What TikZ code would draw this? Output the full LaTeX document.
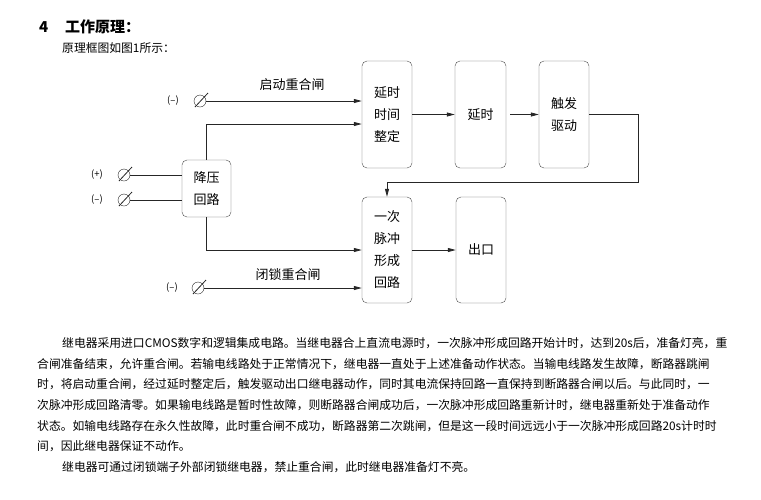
\documentclass[tikz,border=0pt]{standalone}
\usepackage{fontspec}
\setmainfont{Noto Sans CJK SC}
\usetikzlibrary{arrows.meta,calc}
\XeTeXlinebreaklocale "zh"
\XeTeXlinebreakskip=0pt plus 3pt

\tikzset{
	blk/.style={draw=black!70, rounded corners=5pt, minimum width=50pt, minimum height=107pt,
		align=center, inner sep=0pt, font=\fontsize{13}{22}\selectfont},
	term/.style={draw=black!85, circle, minimum size=12pt, inner sep=0pt},
	lbl/.style={inner sep=0pt, font=\fontsize{13}{15}\selectfont},
	pol/.style={inner sep=0pt, font=\fontsize{9.5}{11}\selectfont},
	wire/.style={draw=black!85, line width=0.8pt},
	arr/.style={wire, -{Triangle[length=8pt,width=4pt]}},
	txt/.style={anchor=west, inner sep=0pt, font=\fontsize{11.8}{14}\selectfont},
	head/.style={txt, font=\fontsize{15}{17}\selectfont\bfseries},
}
\newcommand\slashterm[1]{\draw[wire] ($(#1)+(-5,6)$) -- ($(#1)+(8,-8)$);}

\begin{document}
\begin{tikzpicture}[x=1pt, y=-1pt]
			%%%%% START %%%%%
			\useasboundingbox (0,0) rectangle (761,499);
			
			\node[head] (num) at (39,27) {4};
			\node[head] (ttl) at (65,27) {工作原理：};
			\node[txt] (sub) at (62,48) {原理框图如图1所示：};
			
			% blocks
			\node[blk] (zd) at (387,114.5) {延时\\时间\\整定};
			\node[blk, minimum width=51pt] (ys) at (480.5,114.5) {延时};
			\node[blk] (cf) at (564,114.5) {触发\\驱动};
			\node[blk, minimum height=106pt] (mc) at (387,250) {一次\\脉冲\\形成\\回路};
			\node[blk, minimum height=106pt] (ck) at (481,250) {出口};
			\node[blk, minimum width=49pt, minimum height=57pt] (jy) at (206.5,188.5) {降压\\回路};
			
			% terminals
			\node[term] (t1) at (200,101) {}; \slashterm{t1}
			\node[pol] (p1) at (173,101) {(–)};
			\node[term] (t2) at (124,175) {}; \slashterm{t2}
			\node[pol] (p2) at (97,175) {(+)};
			\node[term] (t3) at (124,200) {}; \slashterm{t3}
			\node[pol] (p3) at (97,200) {(–)};
			\node[term] (t4) at (198,288) {}; \slashterm{t4}
			\node[pol] (p4) at (172,288) {(–)};
			
			\node[lbl] (qd) at (292,85) {启动重合闸};
			\node[lbl] (bs) at (288,275) {闭锁重合闸};
			
			% connectors
			\draw[arr] (t1) -- (t1 -| zd.west);
			\draw[arr] (jy.north) |- ([yshift=-9.5pt]zd.west);
			\draw[wire] (t2) -- (t2 -| jy.west);
			\draw[wire] (t3) -- (t3 -| jy.west);
			\draw[arr] (jy.south) |- (mc.west);
			\draw[arr] (t4) -- (t4 -| mc.west);
			\draw[arr] (zd.east) -- (ys.west);
			\draw[arr] ([xshift=4pt]ys.east) -- (cf.west);
			\draw[arr] (cf.east) -- ++(49,0) -- ++(0,68) -| (mc.north);
			\draw[arr] (mc.east) -- (ck.west);
			
			% text
			\node[txt] (l1) at (62,343) {\hbox to 658pt{继电器采用进口CMOS数字和逻辑集成电路。当继电器合上直流电源时，一次脉冲形成回路开始计时，达到20s后，准备灯亮，重}};
			\node[txt] (l2) at (37,363.7) {\hbox to 683pt{合闸准备结束，允许重合闸。若输电线路处于正常情况下，继电器一直处于上述准备动作状态。当输电线路发生故障，断路器跳闸}};
			\node[txt] (l3) at (37,384.3) {\hbox to 683pt{时，将启动重合闸，经过延时整定后，触发驱动出口继电器动作，同时其电流保持回路一直保持到断路器合闸以后。与此同时，一}};
			\node[txt] (l4) at (37,405) {\hbox to 683pt{次脉冲形成回路清零。如果输电线路是暂时性故障，则断路器合闸成功后，一次脉冲形成回路重新计时，继电器重新处于准备动作}};
			\node[txt] (l5) at (37,425.7) {\hbox to 683pt{状态。如输电线路存在永久性故障，此时重合闸不成功，断路器第二次跳闸，但是这一段时间远远小于一次脉冲形成回路20s计时时}};
			\node[txt] (l6) at (37,446.3) {间，因此继电器保证不动作。};
			\node[txt] (l7) at (62,467) {继电器可通过闭锁端子外部闭锁继电器，禁止重合闸，此时继电器准备灯不亮。};
			
			%%%%% END %%%%%
\end{tikzpicture}
\end{document}
